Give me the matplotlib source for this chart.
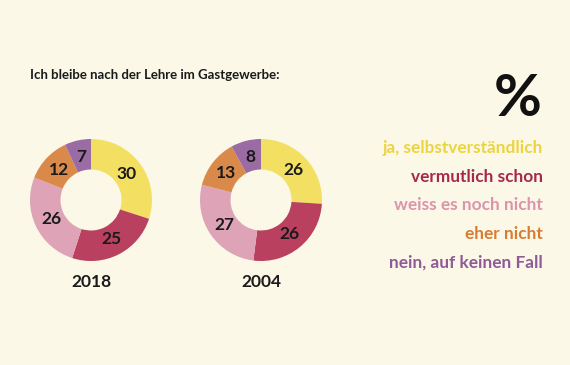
import matplotlib.pyplot as plt
import numpy as np

# data
categories = ["ja, selbstverständlich", "vermutlich schon", "weiss es noch nicht",
              "eher nicht", "nein, auf keinen Fall"]
years = ["2018", "2004"]
values_2018 = [30, 25, 26, 12, 7]
values_2004 = [26, 26, 27, 13, 8]
colors = ["#f3e063", "#b9405e", "#dea3b6", "#d98a4b", "#9b6ba3"]
text_colors = ["#ecd43f", "#a8284c", "#dc94ad", "#d77c32", "#8f5a97"]

W, H = 570, 365
fig = plt.figure(figsize=(W / 100, H / 100), dpi=100)
fig.patch.set_facecolor("#fbf8e7")
ax = fig.add_axes([0, 0, 1, 1])
ax.set_facecolor("#fbf8e7")

plt.rcParams['font.family'] = ['Lato', 'DejaVu Sans']

centers = [(91, H - 200), (261, H - 200)]
R = 61
for vals, (cx, cy), year in zip([values_2018, values_2004], centers, years):
    wedges, _ = ax.pie(vals, colors=colors, startangle=90, counterclock=False,
                       center=(cx, cy), radius=R, frame=True,
                       wedgeprops=dict(width=R * 0.5, edgecolor="none"))
    # labels at mid ring
    start = 90
    for v in vals:
        mid = np.deg2rad(start - v * 3.6 / 2)
        start -= v * 3.6
        rr = R * 0.72
        ax.text(cx + rr * np.cos(mid), cy + rr * np.sin(mid), str(v),
                ha="center", va="center", fontsize=12.5, fontweight="bold",
                color="#1a1a1a")
    ax.text(cx, H - 282, year, ha="center", va="center", fontsize=12.5,
            fontweight="bold", color="#1a1a1a")

ax.text(30, H - 75, "Ich bleibe nach der Lehre im Gastgewerbe:", ha="left",
        va="center", fontsize=9.5, fontweight="bold", color="#1a1a1a")
ax.text(542, H - 99, "%", ha="right", va="center", fontsize=42,
        fontweight="bold", color="#111111")

ys = [148, 177, 205, 234, 263]
for lab, c, y in zip(categories, text_colors, ys):
    ax.text(543, H - y, lab, ha="right", va="center", fontsize=12.4,
            fontweight="bold", color=c)

ax.set_xlim(0, W)
ax.set_ylim(0, H)
ax.set_aspect("auto")
ax.axis("off")

fig.savefig("out.png", dpi=100, facecolor=fig.get_facecolor())
